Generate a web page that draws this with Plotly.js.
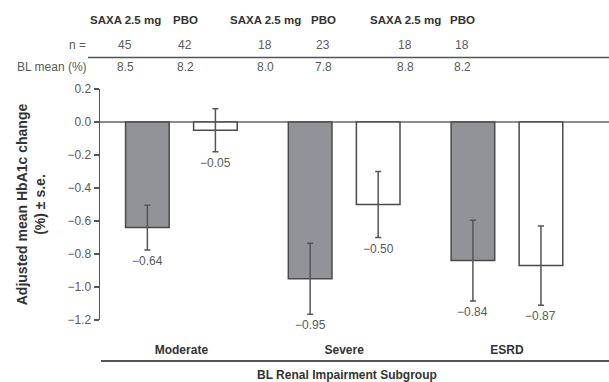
<!DOCTYPE html>
<html>
<head>
<meta charset="utf-8">
<script src="https://cdn.plot.ly/plotly-3.0.1.min.js"></script>
<style>html,body{margin:0;padding:0;background:#fff;}#chart{width:609px;height:382px;}</style>
</head>
<body>
<div id="chart"></div>
<script>
// ---- data ----
const subgroups = ['Moderate', 'Severe', 'ESRD'];
const treatments = ['SAXA 2.5 mg', 'PBO'];
const saxaMean = [-0.64, -0.95, -0.84];
const saxaSE = [0.135, 0.215, 0.245];
const pboMean = [-0.05, -0.50, -0.87];
const pboSE = [0.13, 0.20, 0.24];
const nSaxa = [45, 18, 18];
const nPbo = [42, 23, 18];
const blSaxa = [8.5, 8.0, 8.8];
const blPbo = [8.2, 7.8, 8.2];
const yTicks = [0.2, 0.0, -0.2, -0.4, -0.6, -0.8, -1.0, -1.2];

// ---- styling ----
const FONT = '"Liberation Sans", Arial, sans-serif';
const GRAY = '#5a5a5a';
const DARK = '#333333';
const BARW = 0.268;
const OFF = 0.209;

const traces = [
  {
    type: 'bar', name: treatments[0], x: subgroups, y: saxaMean,
    width: BARW, offset: -OFF - BARW / 2,
    marker: {color: '#929396', line: {color: '#4a4a4a', width: 1.5}},
    error_y: {type: 'data', array: saxaSE, visible: true, color: '#555', thickness: 1.5, width: 3},
    hoverinfo: 'y'
  },
  {
    type: 'bar', name: treatments[1], x: subgroups, y: pboMean,
    width: BARW, offset: OFF - BARW / 2,
    marker: {color: '#ffffff', line: {color: '#4a4a4a', width: 1.5}},
    error_y: {type: 'data', array: pboSE, visible: true, color: '#555', thickness: 1.5, width: 3},
    hoverinfo: 'y'
  }
];

const annotations = [];
const fmt = v => (v < 0 ? '\u2212' : '') + Math.abs(v).toFixed(2);
subgroups.forEach((s, i) => {
  annotations.push({x: i - OFF, y: saxaMean[i] - saxaSE[i], xref: 'x', yref: 'y', text: fmt(saxaMean[i]),
    showarrow: false, yanchor: 'top', yshift: -2, font: {family: FONT, size: 12, color: GRAY}});
  annotations.push({x: i + OFF, y: pboMean[i] - pboSE[i], xref: 'x', yref: 'y', text: fmt(pboMean[i]),
    showarrow: false, yanchor: 'top', yshift: -2, font: {family: FONT, size: 12, color: GRAY}});
});

// header table (pixel columns converted to paper coordinates; plot spans 100..609 px)
const colPx = [125, 185, 265, 323, 405, 462];
const px2paper = p => (p - 100) / 509;
const py2paper = p => (320 - p) / 231;
const headerVals = [treatments[0], treatments[1], treatments[0], treatments[1], treatments[0], treatments[1]];
const nVals = [nSaxa[0], nPbo[0], nSaxa[1], nPbo[1], nSaxa[2], nPbo[2]];
const blVals = [blSaxa[0], blPbo[0], blSaxa[1], blPbo[1], blSaxa[2], blPbo[2]];
colPx.forEach((p, k) => {
  annotations.push({x: px2paper(p), y: py2paper(20), xref: 'paper', yref: 'paper', text: '<b>' + headerVals[k] + '</b>',
    showarrow: false, xanchor: 'center', yanchor: 'middle', font: {family: FONT, size: 11.5, color: DARK}});
  annotations.push({x: px2paper(p), y: py2paper(45), xref: 'paper', yref: 'paper', text: String(nVals[k]),
    showarrow: false, xanchor: 'center', yanchor: 'middle', font: {family: FONT, size: 12, color: GRAY}});
  annotations.push({x: px2paper(p), y: py2paper(67), xref: 'paper', yref: 'paper', text: blVals[k].toFixed(1),
    showarrow: false, xanchor: 'center', yanchor: 'middle', font: {family: FONT, size: 12, color: GRAY}});
});
annotations.push({x: px2paper(88), y: py2paper(45), xref: 'paper', yref: 'paper', text: 'n =',
  showarrow: false, xanchor: 'right', yanchor: 'middle', font: {family: FONT, size: 12, color: GRAY}});
annotations.push({x: px2paper(89), y: py2paper(67), xref: 'paper', yref: 'paper', text: 'BL mean (%)',
  showarrow: false, xanchor: 'right', yanchor: 'middle', font: {family: FONT, size: 12, color: GRAY}});
annotations.push({x: px2paper(347), y: py2paper(375), xref: 'paper', yref: 'paper', text: '<b>BL Renal Impairment Subgroup</b>',
  showarrow: false, xanchor: 'center', yanchor: 'middle', font: {family: FONT, size: 12, color: DARK}});

const shapes = [
  {type: 'line', xref: 'paper', yref: 'paper', x0: px2paper(88), x1: 1, y0: py2paper(57.5), y1: py2paper(57.5),
    line: {color: '#555', width: 1.5}},
  {type: 'line', xref: 'paper', yref: 'paper', x0: px2paper(101), x1: 1, y0: py2paper(361), y1: py2paper(361),
    line: {color: '#555', width: 1.8}},
  {type: 'line', xref: 'paper', yref: 'y', x0: 0, x1: 1, y0: 0, y1: 0, line: {color: '#666', width: 1.5}, layer: 'below'}
];

const layout = {
  width: 609, height: 382,
  margin: {l: 100, r: 0, t: 89, b: 62, pad: 0},
  paper_bgcolor: '#fff', plot_bgcolor: '#fff',
  showlegend: false,
  font: {family: FONT, color: GRAY, size: 12},
  xaxis: {
    type: 'category', range: [-0.5, 2.627], showline: false, ticks: '', showgrid: false, zeroline: false,
    tickfont: {family: FONT, size: 12, color: DARK}, ticklabelstandoff: 21,
    tickvals: subgroups, ticktext: subgroups.map(s => '<b>' + s + '</b>')
  },
  yaxis: {
    range: [-1.2, 0.2], tickvals: yTicks, tickformat: '.1f', ticks: 'outside', ticklen: 5, tickwidth: 1.5,
    tickcolor: '#555', showline: true, linecolor: '#555', linewidth: 1.5, showgrid: false, zeroline: false,
    tickfont: {family: FONT, size: 12, color: GRAY},
    title: {text: '<b>Adjusted mean HbA1c change<br>(%) \u00b1 s.e.</b>', font: {family: FONT, size: 14, color: DARK}, standoff: 18}
  },
  annotations: annotations,
  shapes: shapes
};

Plotly.newPlot('chart', traces, layout, {staticPlot: true, displayModeBar: false});
</script>
</body>
</html>
